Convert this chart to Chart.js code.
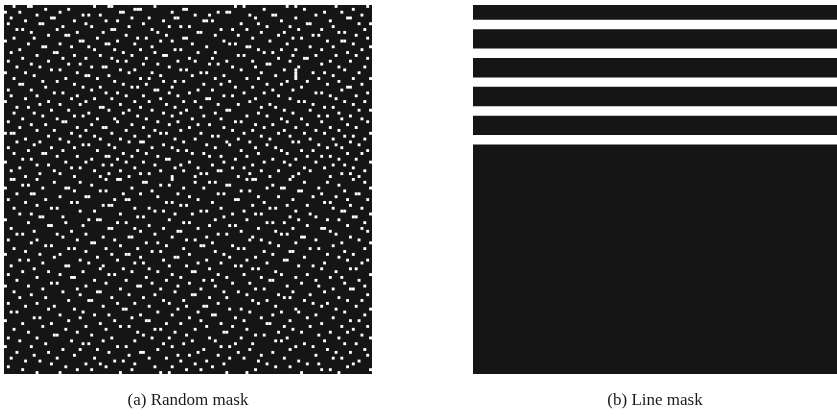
<!DOCTYPE html>
<html>
<head>
<meta charset="utf-8">
<script src="https://cdn.jsdelivr.net/npm/chart.js@4/dist/chart.umd.min.js"></script>
<style>
  body { margin: 0; background: #fff; overflow: hidden; }
  #left { position: absolute; left: 0; top: 0; }
  #right { position: absolute; left: 466px; top: 0; }
</style>
</head>
<body>
<canvas id="left" width="380" height="420"></canvas>
<canvas id="right" width="371" height="420"></canvas>
<script>
// mask size (cells per side)
const gridSize = 128;

// (a) random mask: white cell columns for each row
const whiteRows = [
  [3,8,9,31,36,37,52,80,83,98,101,115,126],
  [14,22,45,46,47,62,63,90,104,121],
  [0,5,19,40,41,58,74,77,78,111,117],
  [11,27,29,33,66,71,85,93,94,108,124],
  [2,16,17,44,50,59,60,87,101,119,120],
  [7,24,35,39,55,69,70,72,96,113],
  [1,12,13,28,48,82,88,105,106,123,127],
  [20,30,43,57,61,64,91,99,114],
  [4,6,18,37,38,51,75,79,84,102,110,125],
  [9,25,34,53,67,68,89,97,116,118],
  [15,21,22,42,56,73,81,95,107,109,122],
  [3,10,32,46,49,62,63,86,100,103,126],
  [0,26,27,39,54,58,76,92,112,117,118],
  [8,19,35,36,45,65,78,80,98,121],
  [13,14,23,29,51,70,84,85,106,114,127],
  [5,31,38,47,59,61,88,96,101,110,124],
  [2,17,18,41,52,67,73,90,93,119],
  [11,24,33,44,55,56,81,83,100,108,115,122],
  [6,20,28,37,49,64,72,95,104,105,126],
  [1,15,39,42,60,66,77,86,99,113,120],
  [9,22,26,48,53,71,74,91,92,110],
  [4,12,30,34,35,57,79,87,102,116,125],
  [16,19,40,45,61,63,82,97,101,118],
  [0,7,25,43,51,68,70,89,101,107,111,123],
  [10,28,29,36,54,65,76,94,101,114],
  [3,21,32,47,50,73,84,88,101,109,121,127],
  [13,18,38,55,59,62,78,98,105,116],
  [5,6,24,41,49,69,75,91,96,112,124],
  [14,27,33,44,46,58,80,86,103,119,120],
  [1,9,30,52,53,67,72,93,100,117],
  [17,20,35,39,57,64,83,90,108,110,126],
  [2,11,25,42,48,60,76,79,95,113,122],
  [7,23,31,37,54,70,71,87,99,115],
  [0,15,28,45,50,62,66,85,102,104,118,125],
  [12,19,26,40,56,74,81,92,107,121],
  [4,8,33,34,47,59,68,89,94,111,114],
  [16,22,36,43,51,63,77,78,97,106,123,127],
  [3,10,29,41,55,61,73,88,100,116],
  [13,24,27,46,58,69,84,91,109,112,120],
  [6,18,32,38,49,65,75,96,103,117,124],
  [1,20,21,39,53,60,80,82,98,110,126],
  [9,14,30,44,57,67,71,87,93,105,119],
  [5,25,34,35,48,64,76,90,101,113,122],
  [11,17,28,42,52,61,79,86,97,108,116],
  [0,2,3,23,37,54,56,68,83,95,104,111,127],
  [15,26,31,45,50,72,74,89,99,118,121],
  [7,19,33,40,59,66,81,92,106,114,125],
  [4,12,22,43,47,48,62,77,85,100,102,120],
  [10,27,29,36,55,70,78,91,109,115,123],
  [1,16,24,38,51,58,73,87,94,112,117],
  [8,20,32,46,60,63,82,96,103,107,126],
  [3,13,14,41,49,65,69,88,98,119,124],
  [18,25,35,36,44,53,71,75,84,105,110,113],
  [6,9,30,39,56,57,80,93,101,116,122],
  [0,21,28,42,48,64,76,90,97,108,127],
  [11,15,34,37,52,61,72,86,99,114,118],
  [5,23,26,45,59,67,79,83,104,111,121],
  [2,17,31,40,54,62,74,75,89,95,106,125],
  [12,19,36,47,50,68,70,85,102,117,120],
  [7,24,33,43,58,66,81,92,100,113,123],
  [2,3,11,35,39,40,58,84,86,87,99,121],
  [17,26,48,49,66,71,73,104,112,125],
  [6,8,30,54,57,77,78,93,116],
  [0,13,21,22,44,62,69,91,96,97,109,127],
  [24,33,35,51,82,85,102,103,118],
  [4,9,10,41,47,60,74,76,110,122,123],
  [19,28,29,53,64,88,95,107,115],
  [1,14,38,42,43,67,80,81,100,119,126],
  [7,23,25,56,58,72,90,111,113],
  [11,34,36,37,61,63,86,98,105,120],
  [3,16,18,45,50,75,92,94,114,124],
  [26,31,52,55,68,70,83,101,117,118],
  [5,9,40,59,65,79,87,89,106,127],
  [12,13,20,46,48,76,99,108,121,122],
  [0,29,32,33,57,73,84,102,112,116],
  [8,21,39,42,62,64,91,93,97,125],
  [15,16,27,50,71,78,80,105,119],
  [2,36,37,45,55,67,88,100,110,111,124],
  [10,23,47,60,61,82,94,113,126],
  [4,6,18,28,52,74,77,96,98,115],
  [20,34,43,44,58,70,86,103,104,120],
  [1,11,25,38,63,66,85,89,108,123],
  [9,30,31,49,53,72,92,101,117,127],
  [14,16,40,56,68,69,79,95,114],
  [3,22,24,35,46,62,81,83,106,109,125],
  [7,28,51,54,73,90,99,100,118],
  [0,12,19,37,42,43,64,76,93,112,121],
  [17,32,47,59,60,78,87,104,116],
  [5,8,26,39,55,70,84,97,98,119,126],
  [13,29,45,48,67,75,91,111,124],
  [2,21,22,34,57,63,80,82,102,107],
  [10,33,41,50,71,86,88,110,120,122],
  [6,15,27,44,53,65,66,94,115],
  [1,19,36,38,58,74,83,96,105,127],
  [11,23,24,49,61,77,89,101,113,117],
  [4,31,42,56,69,72,92,93,108,123],
  [16,18,35,51,64,79,85,103,118],
  [0,8,28,46,47,60,73,98,109,125],
  [13,25,40,54,68,87,90,114,120,121],
  [3,20,32,33,59,76,81,100,111],
  [9,26,43,52,65,66,84,95,106,126],
  [5,14,37,48,71,77,97,99,116],
  [22,29,30,55,62,86,91,104,119,124],
  [1,11,39,45,57,74,88,107,112],
  [7,17,34,50,63,69,70,94,110,122],
  [15,24,41,42,60,78,82,101,115,127],
  [2,4,27,53,67,85,96,102,118],
  [19,31,36,47,58,72,73,93,108,125],
  [10,12,26,44,64,80,89,105,114],
  [0,22,38,49,50,68,83,99,120,123],
  [6,16,33,56,61,75,91,92,110],
  [13,28,40,43,70,79,97,106,117,126],
  [3,21,35,52,54,66,84,100,121],
  [8,25,46,59,76,77,95,103,113,119],
  [17,18,30,48,63,87,90,109,124],
  [1,11,37,51,57,71,82,98,116,127],
  [5,23,34,45,65,73,94,96,111],
  [14,27,29,55,62,80,86,104,118,122],
  [0,9,39,42,58,75,78,101,107],
  [20,26,32,53,69,85,99,112,125],
  [4,15,36,47,48,67,81,93,115,120],
  [10,24,43,60,64,74,89,108,126],
  [2,18,31,50,56,78,83,97,114,117],
  [7,12,38,41,61,70,88,102,123],
  [16,28,33,45,66,76,91,105,109,121],
  [1,21,35,52,58,72,94,99,119],
  [6,25,30,44,63,68,87,110,113,127],
  [11,19,40,54,57,77,84,103,116]
];

// (b) line mask: white line rows (start, end)
const lineStart = [5, 15, 25, 35, 45];
const lineEnd = [8.5, 18.5, 28.5, 38.5, 48.5];

const captions = ['(a) Random mask', '(b) Line mask'];
const maskColor = '#151515';
const captionFont = { family: 'Liberation Serif', size: 17 };

const panelBg = {
  id: 'panelBg',
  beforeDatasetsDraw(chart) {
    if (chart.canvas.id !== 'left') return;
    const a = chart.chartArea;
    chart.ctx.save();
    chart.ctx.fillStyle = maskColor;
    chart.ctx.fillRect(a.left, a.top, a.right - a.left, a.bottom - a.top);
    chart.ctx.restore();
  }
};

function captionAxis(text) {
  return {
    display: true,
    ticks: { display: false },
    grid: { display: false, drawTicks: false },
    border: { display: false },
    title: { display: true, text: text, font: captionFont, color: '#1a1a1a', padding: { top: 16, bottom: 0 } }
  };
}

// random mask points
const points = [];
whiteRows.forEach((cols, r) => {
  cols.forEach((c) => points.push({ x: c + 0.5, y: r + 0.5 }));
});

new Chart(document.getElementById('left'), {
  type: 'scatter',
  data: {
    datasets: [{
      data: points,
      pointStyle: 'rect',
      pointRadius: 2.04,
      pointBorderWidth: 0,
      backgroundColor: '#ffffff',
      borderColor: '#ffffff'
    }]
  },
  options: {
    responsive: false,
    animation: false,
    events: [],
    layout: { padding: { left: 3, right: 8, top: 5, bottom: 9.6 } },
    plugins: { legend: { display: false }, tooltip: { enabled: false } },
    scales: {
      x: Object.assign(captionAxis(captions[0]), { type: 'linear', min: 0, max: gridSize }),
      y: { type: 'linear', display: false, min: 0, max: gridSize, reverse: true }
    }
  },
  plugins: [panelBg]
});

// black segments between the white lines
const blackSegments = [];
let prev = 0;
lineStart.forEach((s, i) => {
  blackSegments.push([prev, s]);
  prev = lineEnd[i];
});
blackSegments.push([prev, gridSize]);

new Chart(document.getElementById('right'), {
  type: 'bar',
  data: {
    labels: ['mask'],
    datasets: blackSegments.map((seg) => ({
      data: [seg],
      backgroundColor: maskColor,
      borderWidth: 0,
      grouped: false,
      barPercentage: 1,
      categoryPercentage: 1
    }))
  },
  options: {
    responsive: false,
    animation: false,
    events: [],
    layout: { padding: { left: 7, right: 0, top: 5, bottom: 9.6 } },
    plugins: { legend: { display: false }, tooltip: { enabled: false } },
    scales: {
      x: captionAxis(captions[1]),
      y: { type: 'linear', display: false, min: 0, max: gridSize, reverse: true }
    }
  }
});
</script>
</body>
</html>
